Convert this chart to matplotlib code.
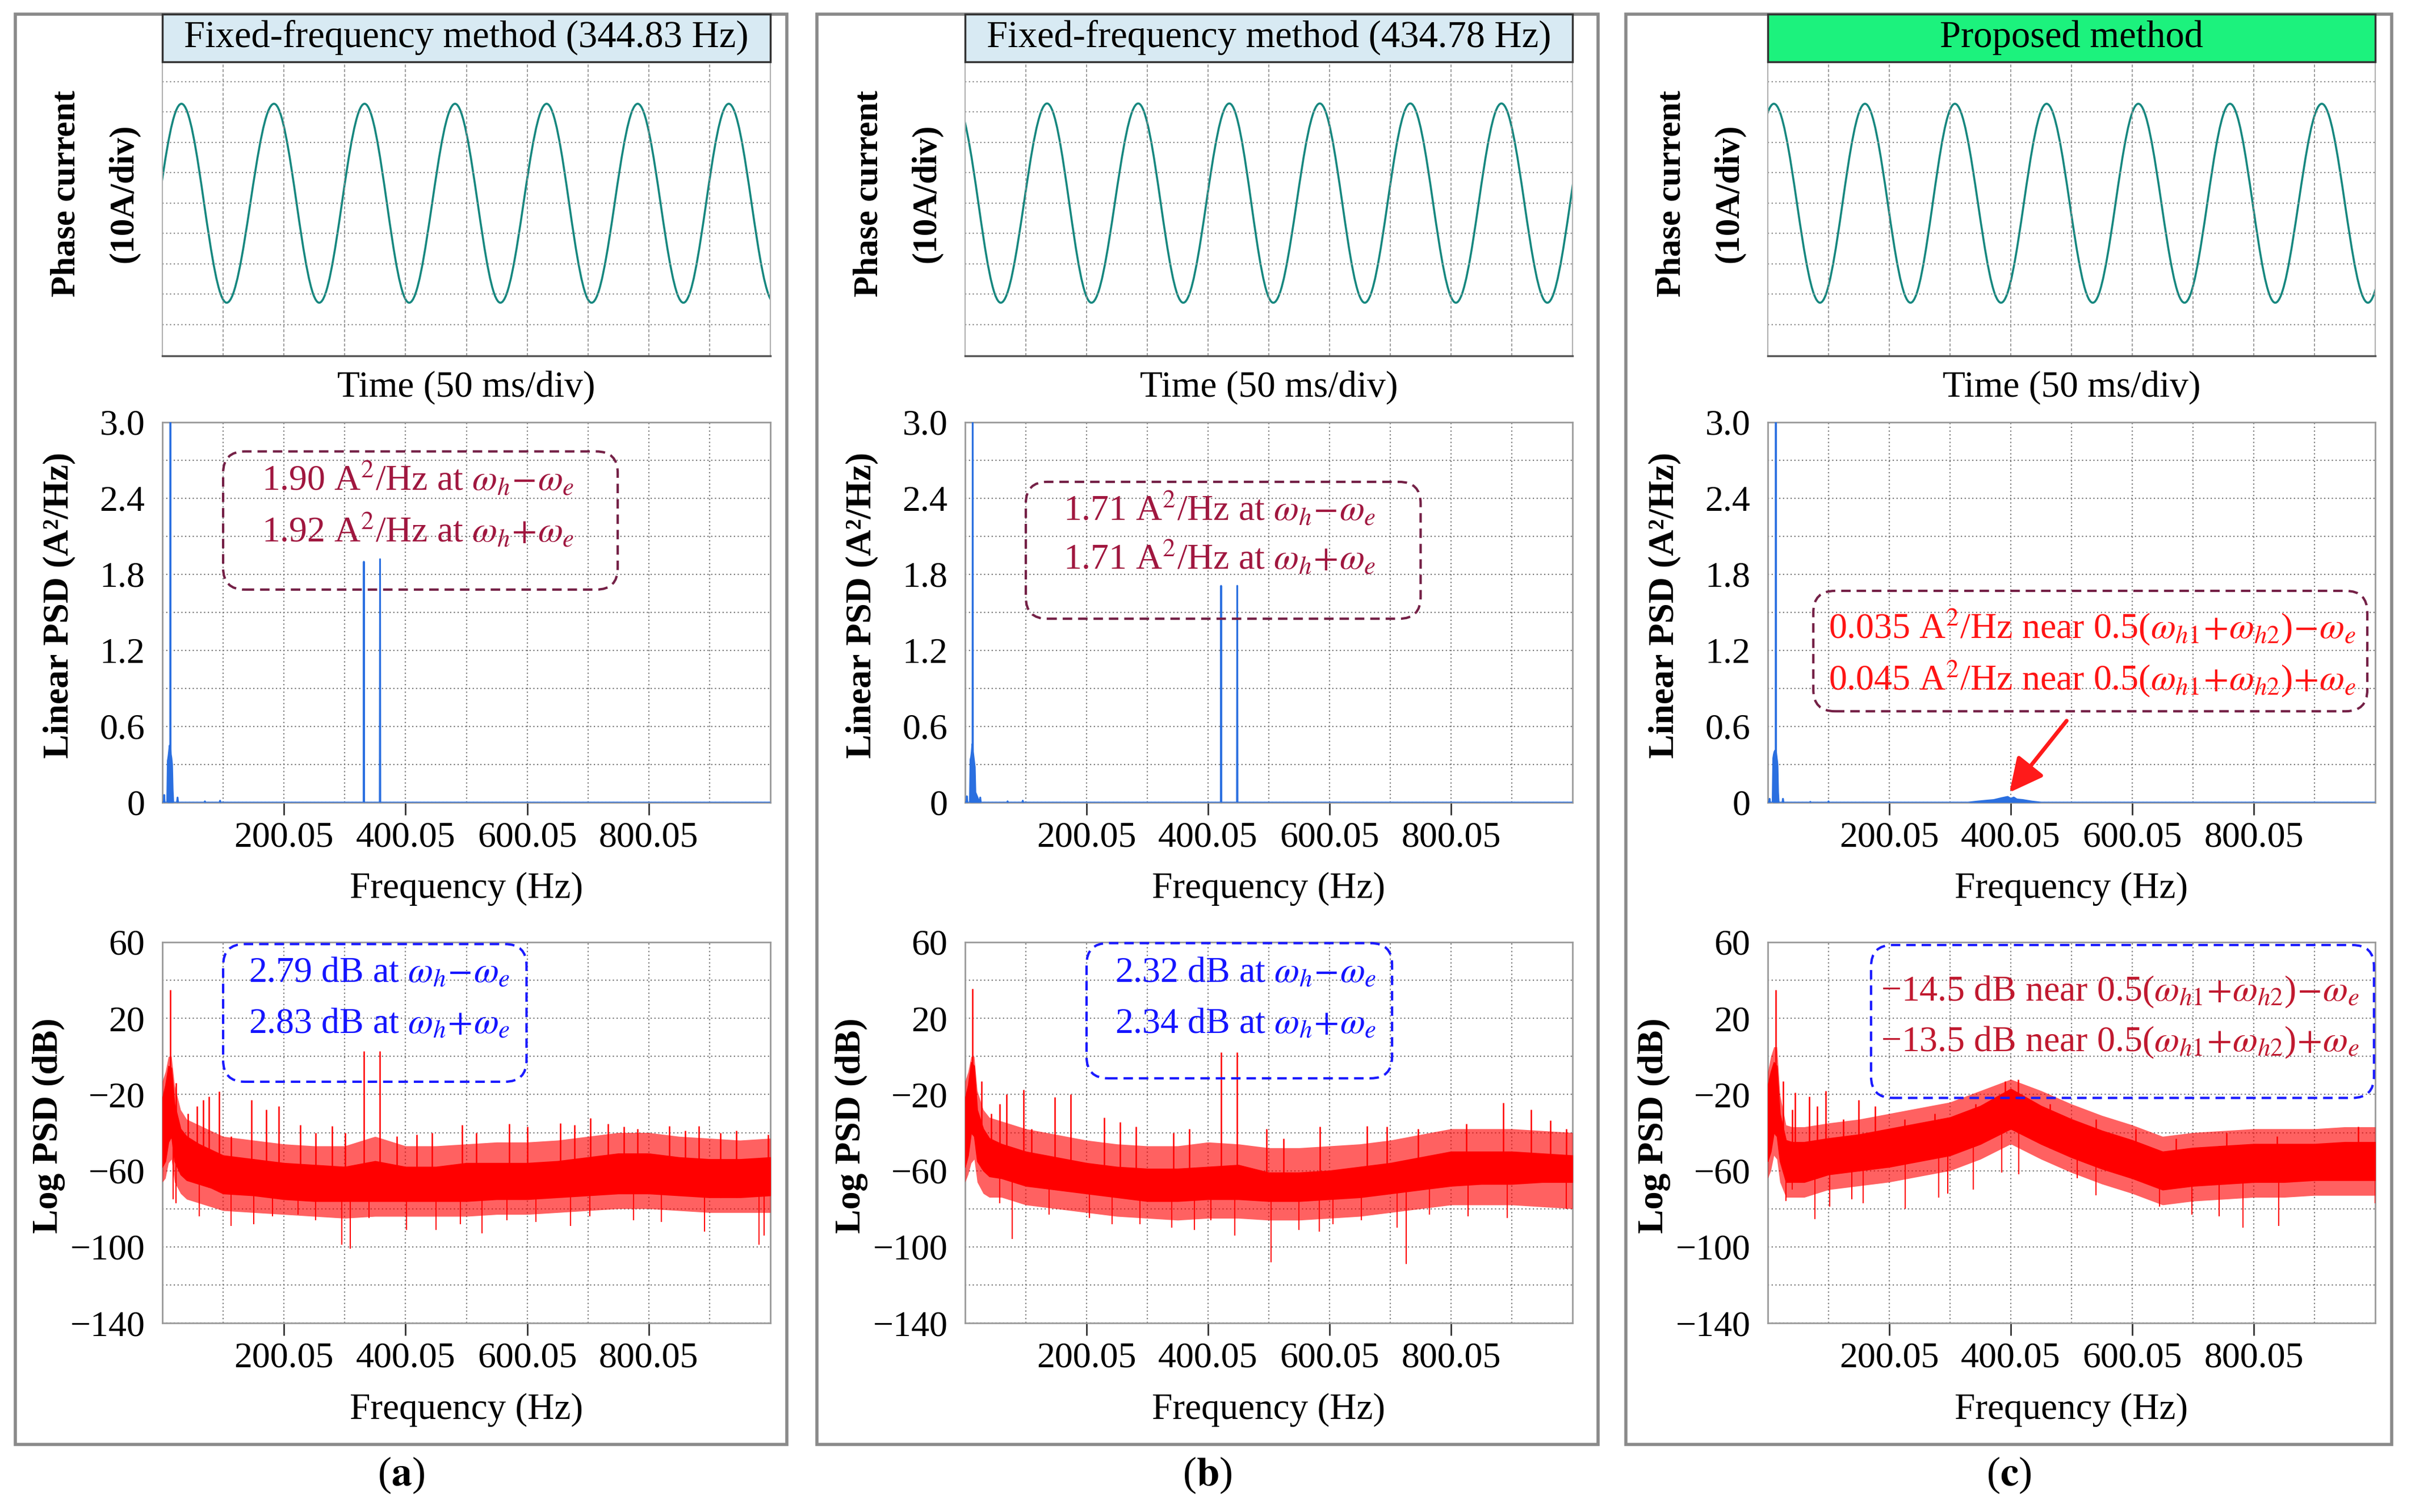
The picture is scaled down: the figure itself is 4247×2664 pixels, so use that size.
import matplotlib.pyplot as plt
import numpy as np
from matplotlib.patches import FancyBboxPatch, PathPatch, Rectangle
from matplotlib.path import Path

plt.rcParams["font.family"] = ["Liberation Serif", "DejaVu Serif"]
plt.rcParams["mathtext.fontset"] = "stix"

W, H = 4247, 2664

# ---------------- data ----------------
titles = ["Fixed-frequency method (344.83 Hz)",
          "Fixed-frequency method (434.78 Hz)",
          "Proposed method"]
tags = ["a", "b", "c"]

# phase current turning points (ms, A); first/last sit just outside the 500 ms window
wave_t_a = [-21.8, 15.7, 52.9, 91.8, 129.0, 166.3, 203.0, 240.7, 278.0, 316.0,
            353.0, 390.9, 428.5, 465.8, 503.3]
wave_i_a = [-32.8, 32.7, -32.8, 32.7, -32.8, 32.7, -32.8, 32.7, -32.8, 32.7,
            -32.8, 32.7, -32.8, 32.7, -32.8]
wave_t_b = [-7.5, 29.4, 67.5, 104.0, 142.5, 179.6, 217.5, 253.7, 292.0, 329.0,
            366.5, 404.0, 441.5, 479.3, 516.8]
wave_i_b = [32.8, -32.8, 32.8, -32.8, 32.8, -32.8, 32.8, -32.8, 32.8, -32.8,
            32.8, -32.8, 32.8, -32.8, 32.8]
wave_t_c = [-32.5, 5.0, 43.0, 80.0, 117.5, 154.0, 192.0, 229.5, 267.5, 305.0,
            343.0, 380.5, 417.7, 456.0, 494.0, 531.5]
wave_i_c = [-32.7, 32.7, -32.8, 32.7, -32.8, 32.7, -32.8, 32.7, -32.8, 32.7,
            -32.8, 32.7, -32.8, 32.7, -32.8, 32.7]

# linear PSD trace (Hz, A^2/Hz)
lin_f_a = [0.05, 2, 3, 4, 8, 9, 10, 11, 12, 13, 13.3, 13.6, 14, 15, 16, 17, 18,
           24, 25, 26, 69, 70, 71, 94, 95, 96, 331.0, 331.5, 332.0,
           357.6, 358.1, 358.6, 1000.05]
lin_v_a = [0, 0, 0.06, 0, 0, 0.33, 0.36, 0.40, 0.45, 0.44, 3.3, 0.42, 0.38, 0.35,
           0.30, 0.10, 0, 0, 0.04, 0, 0, 0.01, 0, 0, 0.015, 0, 0, 1.90, 0,
           0, 1.92, 0, 0]
lin_f_b = [0.05, 2, 3, 4, 8, 9, 10, 11, 12, 12.3, 12.6, 12.9, 13, 14, 15, 16, 17,
           24, 25, 26, 69, 70, 71, 94, 95, 96, 421.0, 421.5, 422.0,
           447.6, 448.1, 448.6, 1000.05]
lin_v_b = [0, 0, 0.05, 0, 0, 0.34, 0.36, 0.40, 0.46, 0.45, 3.3, 0.44, 0.40, 0.36,
           0.32, 0.28, 0.08, 0, 0.04, 0, 0, 0.01, 0, 0, 0.015, 0, 0, 1.71, 0,
           0, 1.71, 0, 0]
lin_f_c = [0.05, 2, 3, 4, 8, 9, 10, 11, 12, 13, 13.3, 13.6, 14, 15, 16, 17, 18,
           24, 25, 26, 69, 70, 71, 99, 100, 101, 330, 345, 360, 372, 385, 395,
           400, 405, 410, 420, 435, 450, 1000.05]
lin_v_c = [0, 0, 0.03, 0, 0, 0.35, 0.38, 0.40, 0.41, 0.40, 3.3, 0.40, 0.38, 0.34,
           0.30, 0.08, 0, 0, 0.03, 0, 0, 0.006, 0, 0, 0.01, 0, 0, 0.008, 0.015,
           0.02, 0.035, 0.045, 0.03, 0.04, 0.025, 0.02, 0.008, 0, 0]

# log PSD: dense core band and looser outer band (Hz, dB)
noise_f = [0.05, 5, 10, 15, 20, 30, 40, 60, 80, 100, 150, 200, 250, 300, 350,
           400, 450, 500, 550, 600, 650, 700, 750, 800, 850, 900, 950, 1000.05]
core_hi_a = [-22, -15, -5, -6, -25, -38, -42, -46, -49, -52, -54, -56, -57, -58,
             -55, -58, -58, -56, -56, -56, -55, -53, -51, -51, -53, -54, -54, -53]
core_lo_a = [-58, -55, -45, -42, -55, -62, -65, -67, -69, -72, -73, -75, -76, -76,
             -76, -76, -76, -76, -75, -75, -74, -73, -72, -72, -73, -74, -74, -73]
fuzz_hi_a = [-13, -8, 0, 0, -15, -28, -33, -36, -39, -42, -44, -46, -47, -47,
             -42, -47, -47, -46, -45, -45, -44, -42, -40, -40, -42, -43, -44, -43]
fuzz_lo_a = [-66, -64, -56, -54, -66, -72, -75, -77, -79, -81, -82, -83, -84, -85,
             -84, -84, -84, -84, -83, -83, -82, -81, -80, -80, -81, -82, -82, -82]
core_hi_b = [-22, -15, -3, -5, -28, -38, -43, -46, -48, -50, -53, -56, -58, -59,
             -59, -58, -57, -61, -61, -60, -58, -56, -53, -50, -50, -50, -51, -52]
core_lo_b = [-58, -52, -40, -42, -55, -60, -63, -64, -66, -68, -70, -72, -74, -76,
             -76, -75, -75, -76, -76, -75, -74, -72, -70, -68, -67, -67, -66, -66]
fuzz_hi_b = [-13, -8, 0, 0, -18, -28, -32, -34, -36, -38, -41, -44, -46, -47,
             -47, -45, -46, -48, -48, -47, -46, -44, -41, -38, -38, -38, -39, -40]
fuzz_lo_b = [-66, -62, -56, -54, -66, -72, -74, -74, -76, -78, -80, -82, -84, -85,
             -86, -85, -85, -86, -86, -85, -84, -82, -80, -78, -78, -78, -79, -80]
core_hi_c = [-15, -8, -3, -5, -30, -44, -45, -45, -44, -43, -41, -38, -35, -32,
             -26, -17, -26, -33, -39, -44, -50, -48, -47, -46, -46, -46, -45, -45]
core_lo_c = [-55, -50, -40, -42, -55, -66, -66, -66, -64, -62, -60, -58, -55, -52,
             -46, -38, -46, -53, -59, -64, -70, -68, -67, -66, -66, -65, -65, -65]
fuzz_hi_c = [-8, 0, 5, 5, -20, -36, -37, -37, -36, -35, -33, -30, -27, -24,
             -18, -12, -18, -25, -31, -36, -42, -40, -39, -38, -38, -38, -37, -37]
fuzz_lo_c = [-64, -60, -52, -54, -66, -74, -74, -74, -72, -70, -68, -66, -63, -60,
             -54, -46, -54, -61, -67, -72, -78, -76, -75, -74, -74, -73, -73, -73]

# isolated spikes above the band and dips below it (Hz, dB)
up_f_a = [13.3, 22, 41.6, 57, 67.5, 77, 93.5, 113, 147, 171, 191, 227, 252, 279,
          301, 331.5, 358.1, 386, 418, 444, 493, 516, 571, 600, 655, 678, 704,
          733, 759, 782, 834, 860, 882, 918, 944, 996]
up_v_a = [35, -14, -30, -26, -23, -21, -18.5, -42, -23, -28, -26, -36, -40, -36.5,
          -40, 2.8, 2.8, -42, -41, -40, -36, -40, -35.5, -37, -35, -36, -32.5,
          -35.5, -37, -38, -36.5, -39, -36.5, -40, -39, -41]
dip_f_a = [18, 22, 61, 113, 150, 181, 223, 252, 295, 309, 340, 402, 450, 490, 526,
           567, 614, 671, 703, 775, 821, 892, 981, 990]
dip_v_a = [-75, -77, -84, -89, -88, -84, -83, -86, -99, -101, -85, -91, -91, -88,
           -93, -86, -87, -89, -84, -86, -87, -92, -99, -94]

up_f_b = [12.6, 27, 43, 57, 68, 96, 109, 148, 174, 229, 255, 281, 343, 369, 421.5,
          448.1, 496, 524, 584, 662, 694, 746, 825, 886, 932, 964, 990]
up_v_b = [35.6, -13, -30, -25, -20, -17.5, -38, -21.5, -20, -32, -34.5, -37, -40,
          -38, 2.3, 2.3, -38, -43, -37, -36.5, -37, -38, -35.5, -24.5, -28, -33.5,
          -38]
dip_f_b = [57, 78, 138, 205, 242, 288, 340, 378, 405, 444, 504, 550, 583, 606, 652,
           711, 726, 765, 828, 893, 990]
dip_v_b = [-77, -96, -83, -85, -88, -88, -90, -91, -86, -94, -108, -91, -92, -88,
           -86, -90, -109, -83, -84, -85, -80]

up_f_c = [13, 25, 40, 45, 68, 81, 95, 124, 150, 177, 225, 275, 342, 391, 412, 465,
          540, 606, 672, 755, 838, 972]
up_v_c = [35, -13, -28, -19, -21, -26, -18, -33, -23, -26, -33, -30, -25, -13, -12,
          -25, -33, -38, -43, -40, -42, -37]
dip_f_c = [30, 40, 78, 102, 138, 157, 226, 281, 296, 338, 385, 413, 509, 540, 645,
           698, 743, 782, 841, 1000]
dip_v_c = [-76, -70, -85.5, -79, -75, -77, -80, -74, -72, -70, -61, -62, -64, -73,
           -79, -83, -84, -90, -89, -77]

lin_notes = [
    ["1.90 A$^2$/Hz at $\\omega_h\\!-\\!\\omega_e$",
     "1.92 A$^2$/Hz at $\\omega_h\\!+\\!\\omega_e$"],
    ["1.71 A$^2$/Hz at $\\omega_h\\!-\\!\\omega_e$",
     "1.71 A$^2$/Hz at $\\omega_h\\!+\\!\\omega_e$"],
    ["0.035 A$^2$/Hz near 0.5($\\omega_{h\\mathrm{1}}\\!+\\!\\omega_{h\\mathrm{2}}$)$\\!-\\!\\omega_e$",
     "0.045 A$^2$/Hz near 0.5($\\omega_{h\\mathrm{1}}\\!+\\!\\omega_{h\\mathrm{2}}$)$\\!+\\!\\omega_e$"],
]
log_notes = [
    ["2.79 dB at $\\omega_h\\!-\\!\\omega_e$", "2.83 dB at $\\omega_h\\!+\\!\\omega_e$"],
    ["2.32 dB at $\\omega_h\\!-\\!\\omega_e$", "2.34 dB at $\\omega_h\\!+\\!\\omega_e$"],
    ["\u221214.5 dB near 0.5($\\omega_{h\\mathrm{1}}\\!+\\!\\omega_{h\\mathrm{2}}$)$\\!-\\!\\omega_e$",
     "\u221213.5 dB near 0.5($\\omega_{h\\mathrm{1}}\\!+\\!\\omega_{h\\mathrm{2}}$)$\\!+\\!\\omega_e$"],
]

waves = [(wave_t_a, wave_i_a), (wave_t_b, wave_i_b), (wave_t_c, wave_i_c)]
lins = [(lin_f_a, lin_v_a), (lin_f_b, lin_v_b), (lin_f_c, lin_v_c)]
cores = [(core_hi_a, core_lo_a), (core_hi_b, core_lo_b), (core_hi_c, core_lo_c)]
fuzzes = [(fuzz_hi_a, fuzz_lo_a), (fuzz_hi_b, fuzz_lo_b), (fuzz_hi_c, fuzz_lo_c)]
ups = [(up_f_a, up_v_a), (up_f_b, up_v_b), (up_f_c, up_v_c)]
dips = [(dip_f_a, dip_v_a), (dip_f_b, dip_v_b), (dip_f_c, dip_v_c)]

# ---------------- layout (pixels) ----------------
frames = [(27, 1386), (1439, 2815), (2864, 4213)]
ax_x = [(286, 1357), (1700, 2770), (3114, 4184)]
row_top, row_mid, row_bot = (109, 627), (744, 1414), (1660, 2331)
title_colors = ["#d8eaf3", "#d8eaf3", "#1cf27d"]

lin_box = [(100, 749, 1.68, 2.77), (100, 750, 1.45, 2.53), (75, 987, 0.72, 1.67)]
lin_txt = [(420, 2.464, 2.057), (419, 2.225, 1.84), (534, 1.298, 0.891)]
lin_col = ["#a0173f", "#a0173f", "#ff1414"]
log_box = [(100, 599, -13.3, 59), (200, 703, -11.5, 59.5), (170, 998, -21.8, 58.5)]
log_txt = [(357, 39.2, 12.4), (462, 39.2, 12.4), (580, 29.2, 2.5)]
log_col = ["#1414ff", "#1414ff", "#c0192f"]

TEAL = "#16877f"
BLUE = "#2a6fe0"
RED = "#ff0000"
GRID = "#7a7a7a"
TICK_FS = 46
LAB_FS = 47
NOTE_FS = 46

fig = plt.figure(figsize=(W / 100, H / 100), dpi=100)


def px_ax(x0, x1, y0, y1):
    return fig.add_axes([x0 / W, 1 - y1 / H, (x1 - x0) / W, (y1 - y0) / H])


def ftext(x, y, s, **kw):
    fig.text(x / W, 1 - y / H, s, ha="center", va="center", **kw)


def dashed_box(ax, box, color, axw, axh):
    x0, x1, y0, y1 = box
    to_frac = ax.transData + ax.transAxes.inverted()
    (u0, v0), (u1, v1) = to_frac.transform([(x0, y0), (x1, y1)])
    r = 38 / axw
    ax.add_patch(FancyBboxPatch((u0, v0), u1 - u0, v1 - v0,
                                boxstyle=f"round,pad=0,rounding_size={r}",
                                mutation_aspect=axw / axh, transform=ax.transAxes,
                                fill=False, ec=color, lw=3, ls=(0, (4, 2.5)),
                                clip_on=False, zorder=5))


def freq_axis(ax):
    ax.set_xlim(0.05, 1000.05)
    ax.set_xticks([200.05, 400.05, 600.05, 800.05])
    ax.set_xticklabels(["200.05", "400.05", "600.05", "800.05"])
    ax.set_xticks(np.arange(100.05, 1000, 100), minor=True)
    ax.grid(which="both", color=GRID, ls=(0, (1, 2)), lw=1.6)
    ax.tick_params(axis="x", which="major", direction="out", length=16, width=2,
                   pad=8, labelsize=TICK_FS, color="#333333")
    ax.tick_params(axis="y", which="major", length=0, pad=22, labelsize=TICK_FS)
    ax.tick_params(which="minor", length=0)
    ax.set_axisbelow(True)
    for sp in ax.spines.values():
        sp.set_color("#9a9a9a")
        sp.set_linewidth(2)


for k in range(3):
    fx0, fx1 = frames[k]
    x0, x1 = ax_x[k]
    cx = (x0 + x1) / 2
    axw = x1 - x0

    # panel frame and title strip
    fig.add_artist(Rectangle((fx0 / W, 1 - 2545 / H), (fx1 - fx0) / W, (2545 - 25) / H,
                             transform=fig.transFigure, fill=False, ec="#8a8a8a", lw=4))
    fig.add_artist(Rectangle((x0 / W, 1 - 109 / H), axw / W, 84 / H,
                             transform=fig.transFigure, fc=title_colors[k],
                             ec="#333333", lw=2.5, zorder=3))
    ftext(cx, 66, titles[k], fontsize=48, zorder=4)

    # phase current
    ax = px_ax(x0, x1, *row_top)
    ax.set_xlim(0, 500)
    ax.set_ylim(-50.3, 46.5)
    ax.set_xticks(np.arange(50, 500, 50))
    ax.set_yticks(np.arange(-40, 41, 10))
    ax.tick_params(length=0, labelbottom=False, labelleft=False)
    ax.grid(axis="x", color="#8a8a8a", ls=(0, (3, 2)), lw=1.2)
    ax.grid(axis="y", color="#8a8a8a", ls=(0, (1, 2)), lw=1.6)
    for sp in ax.spines.values():
        sp.set_color("#b0b0b0")
        sp.set_linewidth(1.5)
    ax.spines["bottom"].set_color("#555555")
    ax.spines["bottom"].set_linewidth(2.5)
    t, cur = waves[k]
    verts = [(t[0], cur[0])]
    codes = [Path.MOVETO]
    for j in range(len(t) - 1):
        dt = t[j + 1] - t[j]
        verts += [(t[j] + 0.3634 * dt, cur[j]), (t[j + 1] - 0.3634 * dt, cur[j + 1]),
                  (t[j + 1], cur[j + 1])]
        codes += [Path.CURVE4] * 3
    ax.add_patch(PathPatch(Path(verts, codes), fill=False, ec=TEAL, lw=2.6))
    ftext(x0 - 170, 341, "Phase current", fontsize=44, fontweight="bold", rotation=90)
    ftext(x0 - 68, 341, "(10A/div)", fontsize=44, fontweight="bold", rotation=90)
    ftext(cx, 683, "Time (50 ms/div)", fontsize=LAB_FS)

    # linear PSD
    ax = px_ax(x0, x1, *row_mid)
    freq_axis(ax)
    ax.set_ylim(0, 3.0)
    ax.set_yticks([0, 0.6, 1.2, 1.8, 2.4, 3.0])
    ax.set_yticklabels(["0", "0.6", "1.2", "1.8", "2.4", "3.0"])
    ax.set_yticks(np.arange(0.3, 2.95, 0.3), minor=True)
    f, v = lins[k]
    ax.fill_between(f, 0, v, color=BLUE, lw=0, zorder=3)
    ax.plot(f, v, color=BLUE, lw=2.2, zorder=3)
    dashed_box(ax, lin_box[k], "#742046", axw, row_mid[1] - row_mid[0])
    tx, ty1, ty2 = lin_txt[k]
    for s, yy in zip(lin_notes[k], (ty1, ty2)):
        ax.text(tx, yy, s, color=lin_col[k], fontsize=NOTE_FS, ha="center",
                va="baseline", zorder=6)
    if k == 2:
        ax.annotate("", xy=(398, 0.08), xytext=(492, 0.645),
                    arrowprops=dict(arrowstyle="-|>,head_length=0.9,head_width=0.45",
                                    color="#ff1a1a", lw=5, mutation_scale=40,
                                    shrinkA=0, shrinkB=0), zorder=6)
    ftext(x0 - 182, 1066, "Linear PSD (A\u00b2/Hz)", fontsize=46, fontweight="bold",
          rotation=90)
    ftext(cx, 1566, "Frequency (Hz)", fontsize=LAB_FS)

    # log PSD
    ax = px_ax(x0, x1, *row_bot)
    freq_axis(ax)
    ax.set_ylim(-140, 60)
    ax.set_yticks([-140, -100, -60, -20, 20, 60])
    ax.set_yticks(np.arange(-120, 60, 20), minor=True)
    fh, fl = fuzzes[k]
    ax.fill_between(noise_f, fl, fh, color=RED, alpha=0.62, lw=0, zorder=3)
    hi, lo = cores[k]
    ax.fill_between(noise_f, lo, hi, color=RED, lw=1.2, zorder=3)
    uf, uv = ups[k]
    ax.vlines(uf, np.interp(uf, noise_f, lo), uv, color=RED, lw=1.8, zorder=3)
    df, dv = dips[k]
    ax.vlines(df, dv, np.interp(df, noise_f, hi), color=RED, lw=1.5, zorder=3)
    dashed_box(ax, log_box[k], "#1a1aff", axw, row_bot[1] - row_bot[0])
    tx, ty1, ty2 = log_txt[k]
    for s, yy in zip(log_notes[k], (ty1, ty2)):
        ax.text(tx, yy, s, color=log_col[k], fontsize=NOTE_FS, ha="center",
                va="baseline", zorder=6)
    ftext(x0 - 200, 1983, "Log PSD (dB)", fontsize=46, fontweight="bold", rotation=90)
    ftext(cx, 2484, "Frequency (Hz)", fontsize=LAB_FS)

    ftext((fx0 + fx1) / 2, 2599, "($\\mathbf{%s}$)" % tags[k], fontsize=52)

fig.savefig("out.png", dpi=100)
